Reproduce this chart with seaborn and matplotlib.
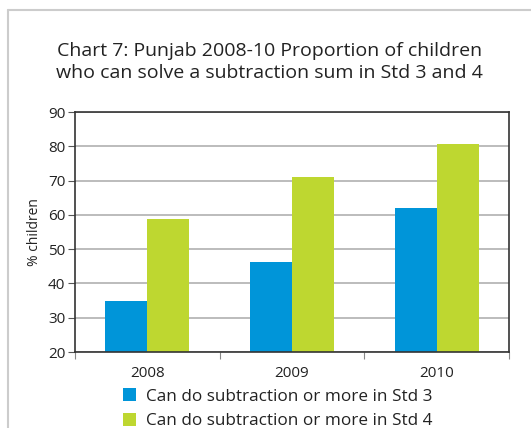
import pandas as pd
import numpy as np
import matplotlib.pyplot as plt
import seaborn as sns
from matplotlib.lines import Line2D
from matplotlib.patches import Patch

years = ["2008", "2009", "2010"]
std3 = [35, 46.2, 62]
std4 = [58.8, 71.1, 80.8]
series_names = [
    "Can do subtraction or more in Std 3",
    "Can do subtraction or more in Std 4"
]
colors = ["#0095d9", "#bed730"]

df = pd.DataFrame({
    "year": years * 2,
    "value": std3 + std4,
    "series": [series_names[0]] * 3 + [series_names[1]] * 3
})

sns.set_style("white")
plt.rcParams["font.family"] = ["Open Sans", "DejaVu Sans"]

fig = plt.figure(figsize=(5.31, 4.28), dpi=100)
ax = fig.add_axes([75 / 531, 1 - 352 / 428, 434 / 531, 240 / 428])

sns.barplot(
    data=df,
    x="year",
    y="value",
    hue="series",
    palette=colors,
    width=0.58,
    saturation=1,
    linewidth=0,
    legend=False,
    ax=ax
)

ax.set_ylim(20, 90)
ax.set_yticks(range(20, 91, 10))
ax.set_xlim(-0.5, 2.5)
ax.yaxis.grid(True, color="#b0b0b0", linewidth=1.2)
ax.set_axisbelow(True)
for s in ax.spines.values():
    s.set_color("#333333")
    s.set_linewidth(1.2)

ax.set_xticks([-0.5, 0.5, 1.5, 2.5], minor=False)
ax.set_xticklabels([])
ax.set_xticks([0, 1, 2], minor=True)
ax.set_xticklabels(years, minor=True)
ax.tick_params(axis="x", which="major", length=5, color="#888888", direction="out", bottom=True)
ax.tick_params(axis="x", which="minor", length=0, labelsize=11, colors="#222222", pad=10)
ax.tick_params(axis="y", length=5, color="#555555", direction="out", left=True, labelsize=11, labelcolor="#222222", pad=2)

ax.set_xlabel("")
ax.set_ylabel("% children", fontsize=10, color="#222222", labelpad=4)

fig.suptitle(
    "Chart 7: Punjab 2008-10 Proportion of children\nwho can solve a subtraction sum in Std 3 and 4",
    x=0.507, y=1 - 42 / 428, fontsize=14, color="#222222", linespacing=1.3
)

handles = [Patch(facecolor=c, edgecolor="none") for c in colors]
fig.legend(
    handles, series_names,
    loc="upper left", bbox_to_anchor=(108 / 531, 1 - 373 / 428),
    frameon=False, fontsize=12.3, handlelength=0.75, handleheight=0.75,
    handletextpad=0.6, labelspacing=0.5, labelcolor="#222222"
)

# light page frame
fig.add_artist(Line2D([8 / 531, 8 / 531], [0, 1 - 10 / 428], color="#cccccc", linewidth=1.5))
fig.add_artist(Line2D([8 / 531, 1], [1 - 10 / 428, 1 - 10 / 428], color="#cccccc", linewidth=1.5))

plt.savefig("out.png", dpi=100)
